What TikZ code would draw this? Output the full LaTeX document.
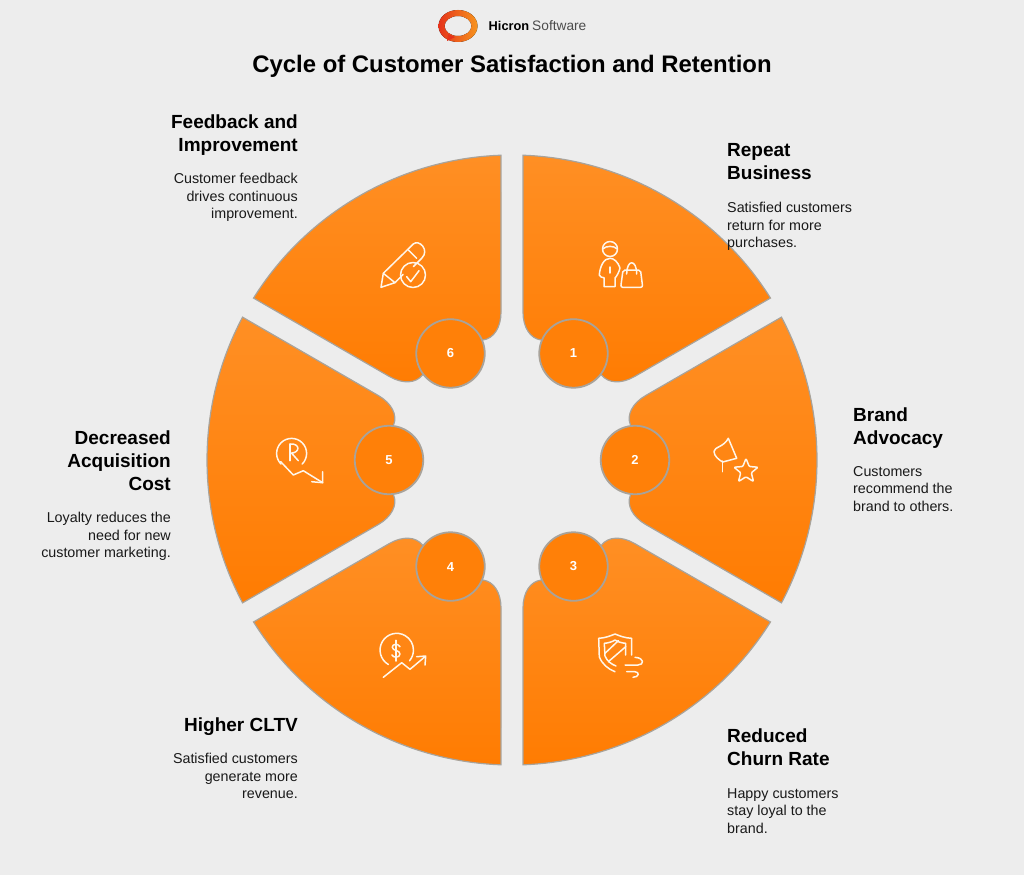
\documentclass[tikz,border=0pt]{standalone}
\usepackage{fontspec}
\setmainfont{Liberation Sans}
\usetikzlibrary{calc}
\definecolor{pagegray}{HTML}{EDEDED}
\definecolor{edgegray}{HTML}{A8A39B}
\definecolor{orangetop}{HTML}{FF8F24}
\definecolor{orangelow}{HTML}{FF7C02}
\definecolor{orangedisc}{HTML}{FF8008}
\definecolor{ringred}{HTML}{E5331B}
\definecolor{ringorange}{HTML}{F7941D}
\definecolor{iconline}{HTML}{FFF6EA}
\tikzset{
  sector/.style={draw=edgegray, line width=1.2pt, top color=orangetop, bottom color=orangelow},
  badge/.style={circle, draw=edgegray, line width=1.8pt, fill=orangedisc, minimum size=68.5pt, inner sep=0pt, text=white, font=\bfseries\fontsize{13}{15}\selectfont},
  icon/.style={draw=iconline, line width=1.5pt, line cap=round, line join=round},
  headline/.style={inner sep=0pt, font=\bfseries\fontsize{19}{23}\selectfont},
  blurb/.style={inner sep=0pt, font=\fontsize{14.3}{17.5}\selectfont, text=black!90}
}
\begin{document}
\begin{tikzpicture}[x=1pt,y=-1pt]
\useasboundingbox (0,0) rectangle (1024,875);
\fill[pagegray] (0,0) rectangle (1024,875);

\fill[left color=ringred, right color=ringorange, even odd rule]
  (458,26) ellipse [x radius=19.5, y radius=16] (458,26) ellipse [x radius=13.5, y radius=10];
\fill[ringred] (448,34) -- (455,37) -- (447,41) -- cycle;
\node[anchor=west, inner sep=0pt] (brand) at (488.5,26) {\fontsize{12.8}{17}\selectfont\textbf{Hicron}\hspace{3pt}\fontsize{13.7}{17}\selectfont\textcolor{black!70}{Software}};
\node[inner sep=0pt, font=\bfseries\fontsize{23.9}{28}\selectfont] (title) at (512,66) {Cycle of Customer Satisfaction and Retention};

\coordinate (c) at (512,460);
\foreach \a/\n in {-60/1, 0/2, 60/3, 120/4, 180/5, 240/6} {
  \coordinate (ea) at ($(c)+(\a-30:148)+(\a+60:11)$);
  \coordinate (ka) at ($(c)+(\a-30:122.5)+(\a+60:11)$);
  \coordinate (fa) at ($(c)+(\a-16.5:123.5)$);
  \coordinate (eb) at ($(c)+(\a+30:148)+(\a-60:11)$);
  \coordinate (kb) at ($(c)+(\a+30:122.5)+(\a-60:11)$);
  \coordinate (fb) at ($(c)+(\a+16.5:123.5)$);
  \path[sector] ($(c)+(\a-27.93:305)$) arc [start angle=\a-27.93, end angle=\a+27.93, radius=305]
    -- (eb) .. controls ($(eb)!0.6!(kb)$) and ($(fb)!0.6!(kb)$) .. (fb)
    -- (fa) .. controls ($(fa)!0.6!(ka)$) and ($(ea)!0.6!(ka)$) .. (ea)
    -- cycle;
  \node[badge] (b\n) at ($(c)+(\a:123)$) {\n};
}

% person and bag
\draw[icon] (610,249) circle (7.5);
\draw[icon] (602.7,249) .. controls (606,245.5) and (614,245.5) .. (617.3,249);
\draw[icon] (604,286.7) -- (615,286.7) -- (615,278) .. controls (617,276) and (619,272) .. (620,268)
  .. controls (618,262) and (614,258.3) .. (610,258.3) .. controls (604,258.3) and (600,266) .. (599.3,275)
  .. controls (600,277) and (602,277.7) .. (604,277.7) -- cycle;
\draw[icon] (610,267) -- (610,273);
\draw[icon, rounded corners=2pt] (623,270) -- (640.5,270) -- (642.7,287.3) -- (620.7,287.3) -- cycle;
\draw[icon] (626.7,274) .. controls (626.7,259) and (636.7,259) .. (636.7,274);

% flag and star
\draw[icon] (722.7,461) -- (722.7,471.7);
\draw[icon] (728.3,438.3) -- (736.7,458.3) -- (722.7,462) .. controls (719,460) and (714,456) .. (714,451.5)
  .. controls (714,447) and (724,447) .. (728.3,438.3);
\draw[icon, rounded corners=1pt] (746,458.5) -- (749.2,466.5) -- (758,467.2) -- (751.3,472.8) -- (753.5,481.5)
  -- (746,476.8) -- (738.5,481.5) -- (740.7,472.8) -- (734,467.2) -- (742.8,466.5) -- cycle;

% shield and wind
\draw[icon] (631.7,655) -- (631.7,638.3) .. controls (625,638) and (620,636) .. (615,634)
  .. controls (610,636) and (605,638) .. (598.7,638.3) -- (599.3,656.7) .. controls (602,664) and (608,669) .. (615,671.7);
\draw[icon] (625.7,655) -- (625.7,643.3) .. controls (622,643) and (618,642) .. (615,640)
  .. controls (612,642) and (608,643) .. (604.3,643.3) -- (605,656) .. controls (607,661) and (611,664) .. (616,666);
\draw[icon] (605,653.3) -- (618.3,640.7);
\draw[icon] (608.3,661.7) -- (625.7,646.7);
\draw[icon] (625,665) -- (638,665) .. controls (644,665) and (645,658) .. (635,657.3);
\draw[icon] (626.7,671.7) -- (635,671.7) .. controls (640,672) and (639,677.3) .. (633,677.3);

% coin and rising arrow
\draw[icon] (388.4,664.5) arc [start angle=120, end angle=400, radius=16.7];
\draw[icon] (396,640.3) -- (396,661);
\draw[icon] (400,646.7) .. controls (398,643) and (392,644) .. (392.3,647.3) .. controls (392.5,651) and (400,650) .. (400,654)
  .. controls (400,658) and (393,658) .. (392,655);
\draw[icon] (383.3,677.3) -- (401.7,662.7) -- (410,669.3) -- (425,656.7);
\draw[icon] (416.7,656.7) -- (425.7,656) -- (425,665);

% letter and falling arrow
\draw[icon] (281,464) arc [start angle=135, end angle=405, radius=15];
\draw[icon] (290,444) -- (290,460.7);
\draw[icon] (290,444) .. controls (300,443) and (301,453) .. (290,453.3);
\draw[icon] (291.7,453.3) -- (298.3,460.7);
\draw[icon] (280.7,461.7) -- (293.3,475) -- (303.3,470.7) -- (322.7,482.7);
\draw[icon] (311.7,481.7) -- (322.7,482.7) -- (322.7,471.7);

% pencil and tick
\draw[icon] (383.3,273.3) -- (413.3,244) .. controls (419,239) and (430,250) .. (421.7,258.3) -- (413.3,266.7);
\draw[icon] (395,282.7) -- (403,274.5);
\draw[icon] (383.3,273.3) -- (381,287.3) -- (395,282.7) -- cycle;
\draw[icon] (408.3,250) -- (416.7,258.3);
\draw[icon] (413,275) circle (12.5);
\draw[icon] (406.7,276.7) -- (410.7,281.7) -- (419,270.7);

\node[headline, anchor=north west, align=left] (head1) at (727,143.5) {Repeat\\Business};
\node[blurb, anchor=north west, align=left] (text1) at (727,202) {Satisfied customers\\return for more\\purchases.};
\node[headline, anchor=north west, align=left] (head2) at (853,407.5) {Brand\\Advocacy};
\node[blurb, anchor=north west, align=left] (text2) at (853,466) {Customers\\recommend the\\brand to others.};
\node[headline, anchor=north west, align=left] (head3) at (727,728.5) {Reduced\\Churn Rate};
\node[blurb, anchor=north west, align=left] (text3) at (727,788) {Happy customers\\stay loyal to the\\brand.};
\node[headline, anchor=north east, align=right] (head4) at (298,717.5) {Higher CLTV};
\node[blurb, anchor=north east, align=right] (text4) at (298,753) {Satisfied customers\\generate more\\revenue.};
\node[headline, anchor=north east, align=right] (head5) at (171,430.5) {Decreased\\Acquisition\\Cost};
\node[blurb, anchor=north east, align=right] (text5) at (171,512) {Loyalty reduces the\\need for new\\customer marketing.};
\node[headline, anchor=north east, align=right] (head6) at (298,114.5) {Feedback and\\Improvement};
\node[blurb, anchor=north east, align=right] (text6) at (298,173) {Customer feedback\\drives continuous\\improvement.};

\end{tikzpicture}
\end{document}
